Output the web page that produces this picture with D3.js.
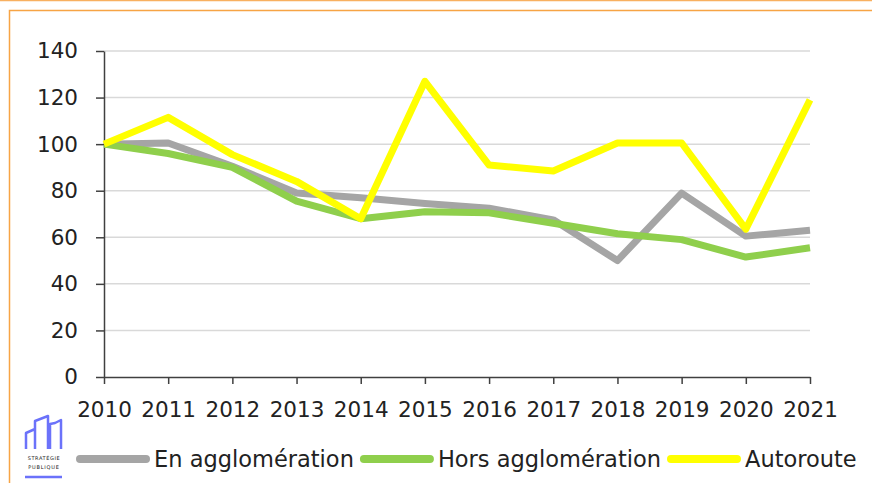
<!DOCTYPE html>
<html>
<head>
<meta charset="utf-8">
<script src="https://cdn.jsdelivr.net/npm/d3@7"></script>
<style>
  body { margin: 0; background: #fff; }
  svg { display: block; }
  text { font-family: "DejaVu Sans", sans-serif; fill: #222; }
</style>
</head>
<body>
<svg id="chart" width="872" height="483"></svg>
<script>
// data
var years = ['2010', '2011', '2012', '2013', '2014', '2015', '2016', '2017', '2018', '2019', '2020', '2021'];
var enAgglo = [100, 100.5, 90.5, 79, 77, 74.5, 72.5, 67.5, 50, 79, 60.5, 63];
var horsAgglo = [100, 96, 90, 75.5, 68, 71, 70.5, 66, 61.5, 59, 51.5, 55.5];
var autoroute = [100, 111.5, 95.5, 84, 68, 127, 91, 88.5, 100.5, 100.5, 63.5, 119];
var yTicks = [0, 20, 40, 60, 80, 100, 120, 140];

var seriesNames = ['En agglomération', 'Hors agglomération', 'Autoroute'];
var seriesColors = ['#a5a5a5', '#8fcf4c', '#ffff00'];

var svg = d3.select('#chart');
var fontSize = 21.5;
var legendFont = 22.5;

// frame
svg.append('line').attr('x1', 0).attr('x2', 872).attr('y1', 0.5).attr('y2', 0.5)
   .attr('stroke', '#f8b060').attr('stroke-width', 1.5);
svg.append('rect').attr('x', 9.5).attr('y', 10.5).attr('width', 900).attr('height', 500)
   .attr('fill', 'none').attr('stroke', '#f7a445').attr('stroke-width', 1.5);

var x = d3.scalePoint().domain(years).range([104, 810]);
var y = d3.scaleLinear().domain([0, 140]).range([377, 51]);

// gridlines
svg.append('g').selectAll('line')
   .data(yTicks.filter(function(d) { return d > 0; }))
   .enter().append('line')
   .attr('x1', 104).attr('x2', 810)
   .attr('y1', function(d) { return y(d); })
   .attr('y2', function(d) { return y(d); })
   .attr('stroke', '#d9d9d9').attr('stroke-width', 1.5);

// axes
var yAxis = svg.append('g').attr('transform', 'translate(104,0)')
   .call(d3.axisLeft(y).tickValues(yTicks).tickSize(8).tickSizeOuter(0).tickPadding(18));
var xAxis = svg.append('g').attr('transform', 'translate(0,377)')
   .call(d3.axisBottom(x).tickSize(7).tickSizeOuter(0).tickPadding(18));

[yAxis, xAxis].forEach(function(ax) {
	ax.select('.domain').attr('stroke', '#404040').attr('stroke-width', 1.5);
	ax.selectAll('.tick line').attr('stroke', '#404040').attr('stroke-width', 1.5);
	ax.selectAll('.tick text').attr('fill', '#222')
	  .style('font-family', '"DejaVu Sans", sans-serif').style('font-size', fontSize + 'px');
});

// lines
var line = d3.line()
	.x(function(d, i) { return x(years[i]); })
	.y(function(d) { return y(d); });

[enAgglo, horsAgglo, autoroute].forEach(function(values, i) {
	svg.append('path')
	   .datum(values)
	   .attr('d', line)
	   .attr('fill', 'none')
	   .attr('stroke', seriesColors[i])
	   .attr('stroke-width', 7)
	   .attr('stroke-linejoin', 'round');
});

// legend
var legendX = 77;
var legendY = 459;
for (var i = 0; i < seriesNames.length; i++) {
	svg.append('line')
	   .attr('x1', legendX + 3).attr('x2', legendX + 69)
	   .attr('y1', legendY).attr('y2', legendY)
	   .attr('stroke', seriesColors[i]).attr('stroke-width', 8)
	   .attr('stroke-linecap', 'round');
	var t = svg.append('text')
	   .attr('x', legendX + 77).attr('y', legendY).attr('dy', '0.36em')
	   .style('font-size', legendFont + 'px')
	   .text(seriesNames[i]);
	legendX = legendX + 77 + t.node().getComputedTextLength() + 7;
}

// logo (decoration)
var logo = svg.append('g').attr('stroke', '#6b72fa').attr('fill', 'none')
   .attr('stroke-width', 2.5).attr('stroke-linejoin', 'round');
logo.append('path').attr('d', 'M26,449 V433 L35,429 V449 M35,449 V421 L48,416 V449 M50,449 V424 L55,423 L61,420 V449');
logo.append('line').attr('x1', 25).attr('x2', 62).attr('y1', 477).attr('y2', 477).attr('stroke-width', 2.5);
svg.append('text').attr('x', 44).attr('y', 460).attr('text-anchor', 'middle')
   .style('font-size', '5px').style('letter-spacing', '0.6px').attr('fill', '#666').text('STRATÉGIE');
svg.append('text').attr('x', 44).attr('y', 469).attr('text-anchor', 'middle')
   .style('font-size', '5px').style('letter-spacing', '0.8px').attr('fill', '#666').text('PUBLIQUE');
</script>
</body>
</html>
